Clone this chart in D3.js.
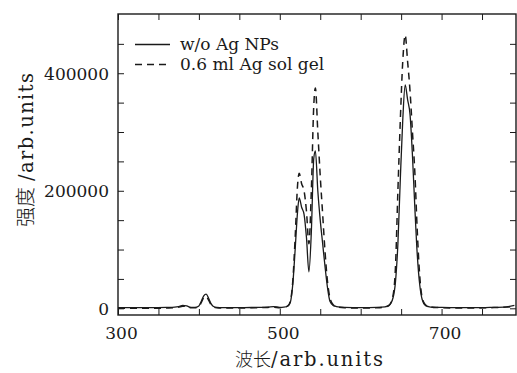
<!DOCTYPE html>
<html>
<head>
<meta charset="utf-8">
<script src="https://cdn.jsdelivr.net/npm/d3@7"></script>
<style>
  html, body { margin: 0; padding: 0; background: #fff; }
  svg { display: block; }
</style>
</head>
<body>
<svg id="chart" width="517" height="373"></svg>
<script>
// ---- data ----
const wavelength = [300,320,340,360,370,375,380,385,390,395,400,403,406,409,412,415,418,422,430,450,470,485,492,500,505,510,513,516,519,522,524,527,530,533,536,539,542,544,547,550,553,556,559,562,566,570,580,600,620,630,635,640,643,646,649,652,655,658,661,664,667,670,673,676,680,685,690,700,720,740,760,780,790];
const woAgNPs = [1000,1000,1000,1500,2000,3000,5000,4000,1500,1500,4000,12000,21000,24000,17000,8000,3000,1500,1000,1000,1500,2000,3000,1500,2000,4000,10000,40000,100000,165000,188000,172000,160000,120000,62000,130000,255000,268000,200000,150000,110000,70000,35000,12000,5000,3000,1500,1000,1500,2500,5000,18000,45000,110000,220000,320000,380000,355000,330000,260000,170000,90000,40000,15000,5000,2500,2000,1500,1000,1000,1500,2500,5000];
const agSolGel = [0,0,0,500,1000,2000,3500,3000,1000,1000,3000,10000,18000,20000,14000,6000,2000,1000,500,500,1000,1500,2000,1000,1500,4000,12000,45000,120000,210000,230000,212000,200000,165000,110000,200000,345000,375000,300000,225000,160000,95000,45000,18000,6000,3000,1000,500,1000,2000,5000,22000,70000,200000,320000,420000,465000,420000,370000,300000,230000,130000,55000,18000,6000,2000,1500,1000,500,500,1000,2000,4000];
const seriesNames = ["w/o Ag NPs", "0.6 ml Ag sol gel"];
const xTicks = [300,350,400,450,500,550,600,650,700,750];
const xTickLabels = [300,500,700];
const yTicks = [0,50000,100000,150000,200000,250000,300000,350000,400000,450000];
const yTickLabels = [0,200000,400000];
const xTitleCJK = "波长", xTitleLatin = "/arb.units";
const yTitleCJK = "强度", yTitleLatin = "/arb.units";

// ---- layout ----
const mL = 118, mT = 14, mR = 516, mB = 315;
const serif = "'DejaVu Serif', 'Liberation Serif', serif";
const cjk = "'Noto Sans CJK SC', sans-serif";
const ink = "#1a1a1a";

const svg = d3.select("#chart").attr("font-family", serif);
const x = d3.scaleLinear().domain([300, 792]).range([mL, mR]);
const y = d3.scaleLinear().domain([-11400, 500800]).range([mB, mT]);

const data = wavelength.map((w, i) => ({w, a: woAgNPs[i], b: agSolGel[i]}));

svg.append("clipPath").attr("id", "plotclip")
  .append("rect").attr("x", mL).attr("y", mT).attr("width", mR - mL).attr("height", mB - mT);

const g = svg.append("g").attr("clip-path", "url(#plotclip)");

const lineA = d3.line().x(d => x(d.w)).y(d => y(d.a)).curve(d3.curveMonotoneX);
const lineB = d3.line().x(d => x(d.w)).y(d => y(d.b)).curve(d3.curveMonotoneX);

g.append("path").datum(data).attr("d", lineB)
  .attr("fill", "none").attr("stroke", ink).attr("stroke-width", 1.5)
  .attr("stroke-dasharray", "7,5");
g.append("path").datum(data).attr("d", lineA)
  .attr("fill", "none").attr("stroke", ink).attr("stroke-width", 1.3);

// ---- axes ----
const tickLen = 6;
const axB = d3.axisBottom(x).tickValues(xTicks).tickSizeInner(-tickLen).tickSizeOuter(0)
  .tickFormat(d => xTickLabels.includes(d) ? d : "");
const axT = d3.axisTop(x).tickValues(xTicks).tickSizeInner(-tickLen).tickSizeOuter(0).tickFormat("");
const axL = d3.axisLeft(y).tickValues(yTicks).tickSizeInner(-tickLen).tickSizeOuter(0)
  .tickFormat(d => yTickLabels.includes(d) ? d : "");
const axR = d3.axisRight(y).tickValues(yTicks).tickSizeInner(-tickLen).tickSizeOuter(0).tickFormat("");

function styleAxis(sel) {
  sel.attr("font-family", serif).attr("font-size", 17);
  sel.select(".domain").remove();
  sel.selectAll(".tick line").attr("stroke", ink).attr("stroke-width", 1);
  sel.selectAll(".tick text").attr("fill", ink);
}
const gb = svg.append("g").attr("transform", `translate(0,${mB})`).call(axB).call(styleAxis);
gb.selectAll(".tick text").attr("dy", "0").attr("y", 24).attr("dx", 3);
svg.append("g").attr("transform", `translate(0,${mT})`).call(axT).call(styleAxis);
const gl = svg.append("g").attr("transform", `translate(${mL},0)`).call(axL).call(styleAxis);
gl.selectAll(".tick text").attr("x", -9).attr("dy", "0.36em");
svg.append("g").attr("transform", `translate(${mR},0)`).call(axR).call(styleAxis);

// frame
svg.append("rect").attr("x", mL).attr("y", mT).attr("width", mR - mL).attr("height", mB - mT)
  .attr("fill", "none").attr("stroke", ink).attr("stroke-width", 1.4);

// ---- legend ----
const leg = svg.append("g");
const legRows = [{name: seriesNames[0], dash: null, y: 44.5},
                 {name: seriesNames[1], dash: "7,5", y: 64.5}];
legRows.forEach(r => {
  leg.append("line").attr("x1", 135).attr("x2", 170).attr("y1", r.y).attr("y2", r.y)
    .attr("stroke", ink).attr("stroke-width", r.dash ? 1.5 : 1.3)
    .attr("stroke-dasharray", r.dash);
  leg.append("text").attr("x", 180).attr("y", r.y + 5.5)
    .attr("fill", ink).attr("font-family", serif).attr("font-size", 17).text(r.name);
});

// ---- axis titles ----
svg.append("text").attr("x", 235).attr("y", 366).attr("fill", ink)
  .attr("font-family", cjk).attr("font-size", 18).attr("font-weight", 300).text(xTitleCJK);
svg.append("text").attr("x", 271).attr("y", 366).attr("fill", ink)
  .attr("textLength", 112).attr("lengthAdjust", "spacing")
  .attr("font-family", serif).attr("font-size", 19.5).text(xTitleLatin);

const yt = svg.append("g").attr("transform", "translate(33,227) rotate(-90)");
yt.append("text").attr("x", 0).attr("y", 0).attr("fill", ink)
  .attr("font-family", cjk).attr("font-size", 20).attr("font-weight", 300).text(yTitleCJK);
yt.append("text").attr("x", 46).attr("y", 0).attr("fill", ink)
  .attr("textLength", 108).attr("lengthAdjust", "spacing")
  .attr("font-family", serif).attr("font-size", 19.5).text(yTitleLatin);
</script>
</body>
</html>
